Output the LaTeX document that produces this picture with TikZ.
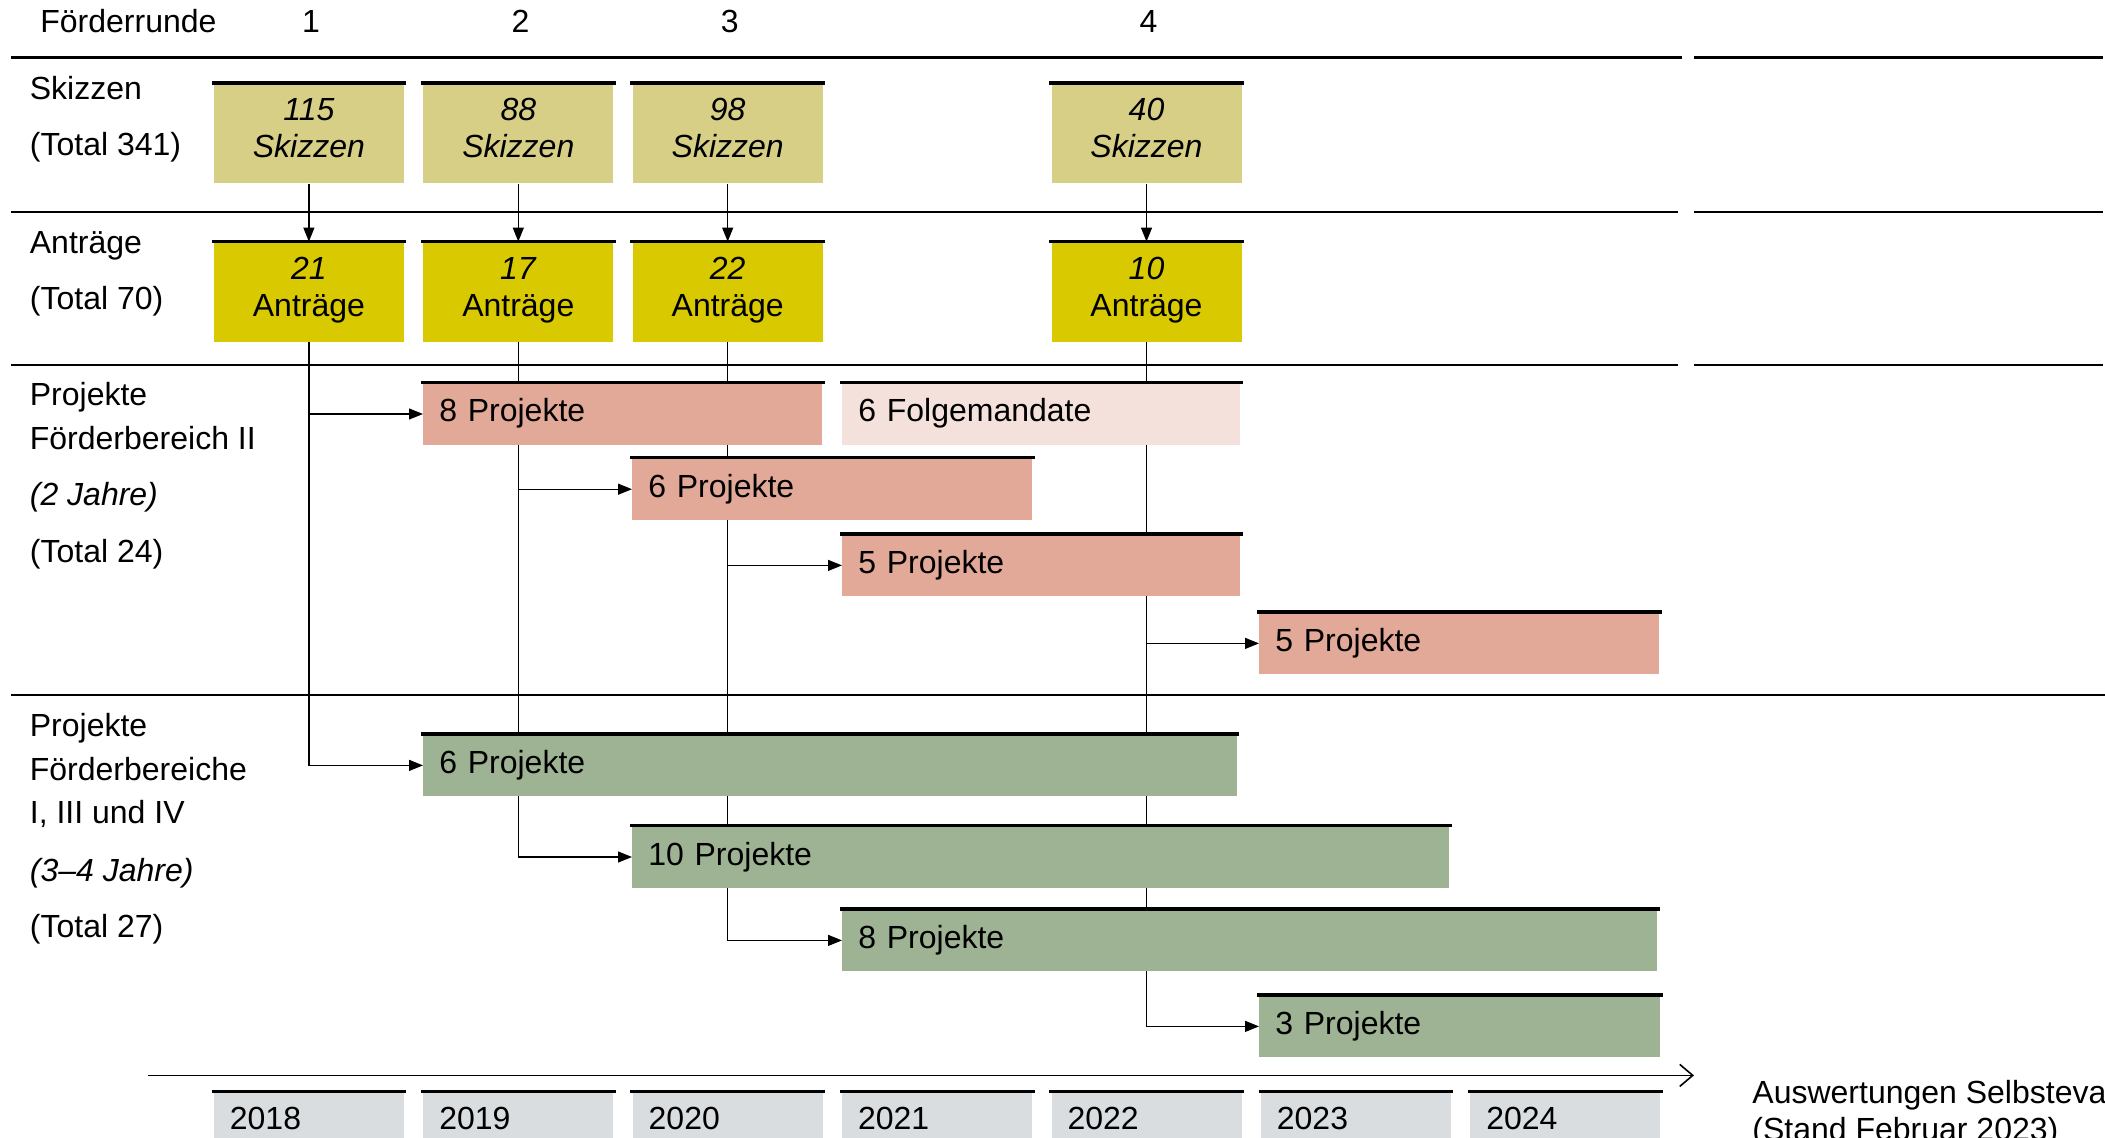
\documentclass[tikz,border=0pt]{standalone}
\usepackage{fontspec}
\setmainfont{Liberation Sans}
\usepackage{tikz}
\usetikzlibrary{arrows.meta}
\usetikzlibrary{backgrounds}

\definecolor{skizze}{HTML}{D6CF85}
\definecolor{antrag}{HTML}{D8C900}
\definecolor{fbzwei}{HTML}{E2A998}
\definecolor{folge}{HTML}{F4E1DB}
\definecolor{fbrest}{HTML}{9EB294}
\definecolor{jahr}{HTML}{D9DDE0}

\begin{document}
\begin{tikzpicture}[
    x=0.5pt, y=-0.5pt, % one unit is one pixel of the layout, y grows downwards
    font=\fontsize{16}{18.5}\selectfont, % Arial-like text
    topline/.style={ % dark rule on top of every box
        append after command={(\tikzlastnode.north west) edge[draw=black, line width=1.6pt, shorten <=-1pt, shorten >=-1pt] (\tikzlastnode.north east)}
    },
    round/.style={ % Skizzen and Antraege boxes
        anchor=north west, minimum width=95pt, minimum height=50pt,
        inner sep=0pt, align=center, text depth=5.5pt, topline
    },
    bar/.style={ % project bars and years
        anchor=north west, minimum height=31pt, inner xsep=8pt, inner ysep=0pt,
        align=left, text height=11pt, text depth=3pt, topline
    },
    lbl/.style={anchor=west, inner sep=0pt, text height=11pt, text depth=3pt, yshift=-1.5pt}, % row titles
    conn/.style={line width=0.6pt, -{Triangle[length=7pt, width=5.5pt]}}, % connectors
    sep/.style={line width=1.3pt} % row separators
]
\clip (0,0) rectangle (2105,1138);

% row separators
\foreach \yy/\xe in {57.7/1682, 212/1678, 365/1678} {
    \draw[sep] (11,\yy) -- (\xe,\yy);
    \draw[sep] (1694,\yy) -- (2103,\yy);
}
\draw[sep] (11,695) -- (2105,695);

% row titles
\node[lbl] (fr) at (40,21.5) {Förderrunde};
\foreach \t/\yy [count=\k] in {Skizzen/88.6, {(Total 341)}/145, Anträge/243, {(Total 70)}/299,
        Projekte/395, Förderbereich II/439, {\textit{(2 Jahre)}}/495, {(Total 24)}/552,
        Projekte/725, Förderbereiche/769, {I, III und IV}/812, {\textit{(3--4 Jahre)}}/870, {(Total 27)}/926}
    \node[lbl] (l\k) at (29.5,\yy) {\t};

% rounds: Skizzen and Antraege
\foreach \r/\c/\s/\a in {1/1/115/21, 2/2/88/17, 3/3/98/22, 4/5/40/10} {
    \node (r\r) at ({311+209.4*(\c-1)},21.5) {\r};
    \node[round, fill=skizze] (s\r) at ({213.5+209.4*(\c-1)},83) {\textit{\s}\\\textit{Skizzen}};
    \node[round, fill=antrag] (a\r) at ({213.5+209.4*(\c-1)},241.6) {\textit{\a}\\Anträge};
}

% Foerderbereich II
\node[bar, fill=fbzwei, text width=183.5pt] (p1) at (423,382.6) {8 Projekte};
\node[bar, fill=folge, text width=183pt] (f1) at (842,382.6) {6 Folgemandate};
\node[bar, fill=fbzwei, text width=184pt] (p2) at (632,457.8) {6 Projekte};
\node[bar, fill=fbzwei, text width=183pt] (p3) at (842,534) {5 Projekte};
\node[bar, fill=fbzwei, text width=184pt] (p4) at (1259,612) {5 Projekte};

% Foerderbereiche I, III und IV
\node[bar, fill=fbrest, text width=390.75pt] (g1) at (423,734) {6 Projekte};
\node[bar, fill=fbrest, text width=392.5pt] (g2) at (632,825.6) {10 Projekte};
\node[bar, fill=fbrest, text width=391.5pt] (g3) at (842,909) {8 Projekte};
\node[bar, fill=fbrest, text width=184.5pt] (g4) at (1259,995) {3 Projekte};

% time axis
\coordinate (ax0) at (148,1075.4);
\coordinate (ax1) at (1694,1075.4);
\draw[line width=0.8pt, -{Straight Barb[length=6.5pt, width=11pt]}] (ax0) -- (ax1);
\foreach \j [count=\c] in {2018,...,2024}
    \node[bar, fill=jahr, text width=79pt, minimum height=30pt] (y\j) at ({213.5+209.4*(\c-1)},1091.5) {\j};
\node[anchor=north west, inner sep=0pt, align=left] (note) at (1752,1080) {Auswertungen Selbstevaluation\\(Stand Februar 2023)};

% connectors behind the boxes
\begin{scope}[on background layer]
    \foreach \r in {1,...,4}
        \draw[conn] (s\r) -- (a\r);
    \foreach \r in {1,...,4} {
        \draw[conn] (a\r.south) |- (p\r.west);
        \draw[conn] (a\r.south) |- (g\r.west);
    }
\end{scope}
\end{tikzpicture}
\end{document}
